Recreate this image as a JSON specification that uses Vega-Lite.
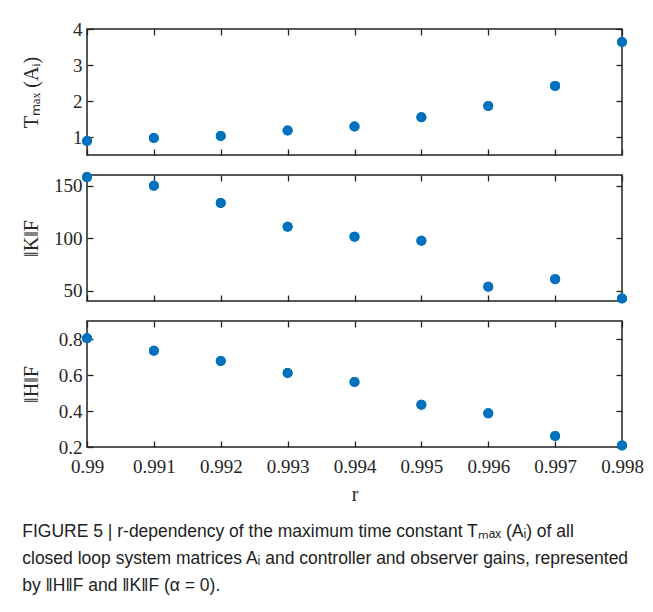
{
  "$schema": "https://vega.github.io/schema/vega-lite/v6.json",
  "background": "white",
  "padding": {"left": 20, "top": 19, "right": 10, "bottom": 5},
  "datasets": {
    "d": [
      {"r": 0.990, "T": 0.89, "K": 158.0, "H": 0.804},
      {"r": 0.991, "T": 0.97, "K": 149.7, "H": 0.735},
      {"r": 0.992, "T": 1.03, "K": 133.4, "H": 0.678},
      {"r": 0.993, "T": 1.18, "K": 110.7, "H": 0.611},
      {"r": 0.994, "T": 1.29, "K": 101.3, "H": 0.561},
      {"r": 0.995, "T": 1.55, "K": 97.3, "H": 0.435},
      {"r": 0.996, "T": 1.86, "K": 53.5, "H": 0.387},
      {"r": 0.997, "T": 2.42, "K": 60.8, "H": 0.261},
      {"r": 0.998, "T": 3.64, "K": 42.3, "H": 0.209}
    ]
  },
  "spacing": 14,
  "vconcat": [
    {
      "width": 535, "height": 126,
      "data": {"name": "d"},
      "resolve": {"axis": {"x": "independent", "y": "independent"}},
      "layer": [
        {
          "mark": {"type": "point", "filled": true, "opacity": 1, "clip": false},
          "encoding": {
            "x": {"field": "r", "type": "quantitative", "scale": {"domain": [0.99, 0.998], "nice": false, "zero": false},
                  "axis": {"orient": "bottom", "labels": false, "title": null, "values": [0.99,0.991,0.992,0.993,0.994,0.995,0.996,0.997,0.998]}},
            "y": {"field": "T", "type": "quantitative", "scale": {"domain": [0.5, 4], "nice": false, "zero": false},
                  "axis": {"orient": "left", "values": [1,2,3,4], "title": "Tₘₐₓ (Aᵢ)", "titleX": -46}}
          }
        },
        {
          "mark": {"type": "point", "filled": true, "opacity": 1, "clip": false},
          "encoding": {
            "x": {"field": "r", "type": "quantitative",
                  "axis": {"orient": "top", "labels": false, "title": null, "values": [0.99,0.991,0.992,0.993,0.994,0.995,0.996,0.997,0.998]}},
            "y": {"field": "T", "type": "quantitative",
                  "axis": {"orient": "right", "labels": false, "title": null, "values": [1,2,3,4]}}
          }
        }
      ]
    },
    {
      "width": 535, "height": 126,
      "data": {"name": "d"},
      "resolve": {"axis": {"x": "independent", "y": "independent"}},
      "layer": [
        {
          "mark": {"type": "point", "filled": true, "opacity": 1, "clip": false},
          "encoding": {
            "x": {"field": "r", "type": "quantitative", "scale": {"domain": [0.99, 0.998], "nice": false, "zero": false},
                  "axis": {"orient": "bottom", "labels": false, "title": null, "values": [0.99,0.991,0.992,0.993,0.994,0.995,0.996,0.997,0.998]}},
            "y": {"field": "K", "type": "quantitative", "scale": {"domain": [40, 160], "nice": false, "zero": false},
                  "axis": {"orient": "left", "values": [50,100,150], "title": "‖K‖F", "titleX": -46}}
          }
        },
        {
          "mark": {"type": "point", "filled": true, "opacity": 1, "clip": false},
          "encoding": {
            "x": {"field": "r", "type": "quantitative",
                  "axis": {"orient": "top", "labels": false, "title": null, "values": [0.99,0.991,0.992,0.993,0.994,0.995,0.996,0.997,0.998]}},
            "y": {"field": "K", "type": "quantitative",
                  "axis": {"orient": "right", "labels": false, "title": null, "values": [50,100,150]}}
          }
        }
      ]
    },
    {
      "width": 535, "height": 126,
      "data": {"name": "d"},
      "resolve": {"axis": {"x": "independent", "y": "independent"}},
      "layer": [
        {
          "mark": {"type": "point", "filled": true, "opacity": 1, "clip": false},
          "encoding": {
            "x": {"field": "r", "type": "quantitative", "scale": {"domain": [0.99, 0.998], "nice": false, "zero": false},
                  "axis": {"orient": "bottom", "title": "r", "format": ".3~f", "values": [0.99,0.991,0.992,0.993,0.994,0.995,0.996,0.997,0.998]}},
            "y": {"field": "H", "type": "quantitative", "scale": {"domain": [0.2, 0.9], "nice": false, "zero": false},
                  "axis": {"orient": "left", "values": [0.2,0.4,0.6,0.8], "format": ".1f", "title": "‖H‖F", "titleX": -46}}
          }
        },
        {
          "mark": {"type": "point", "filled": true, "opacity": 1, "clip": false},
          "encoding": {
            "x": {"field": "r", "type": "quantitative",
                  "axis": {"orient": "top", "labels": false, "title": null, "values": [0.99,0.991,0.992,0.993,0.994,0.995,0.996,0.997,0.998]}},
            "y": {"field": "H", "type": "quantitative",
                  "axis": {"orient": "right", "labels": false, "title": null, "values": [0.2,0.4,0.6,0.8]}}
          }
        }
      ]
    }
  ],
  "title": {
    "text": [
      "FIGURE 5 | r-dependency of the maximum time constant Tₘₐₓ (Aᵢ) of all",
      "closed loop system matrices Aᵢ and controller and observer gains, represented",
      "by ‖H‖F and ‖K‖F (α = 0)."
    ],
    "orient": "bottom",
    "anchor": "start",
    "frame": "bounds",
    "offset": 18,
    "dx": 2,
    "font": "Liberation Sans",
    "fontSize": 17.5,
    "fontWeight": "normal",
    "color": "#222222",
    "lineHeight": 27
  },
  "config": {
    "view": {"stroke": "#222222", "strokeWidth": 1.5},
    "point": {"color": "#0072BD", "size": 100},
    "axis": {
      "domain": false,
      "grid": false,
      "ticks": true,
      "tickSize": -6,
      "tickColor": "#222222",
      "tickWidth": 1.3,
      "labelFlush": false,
      "labelOverlap": false,
      "labelFont": "Liberation Serif",
      "labelFontSize": 19,
      "labelColor": "#262626",
      "labelPadding": 11,
      "titleFont": "Liberation Serif",
      "titleFontSize": 20,
      "titleFontWeight": "normal",
      "titleColor": "#262626"
    },
    "axisX": {"labelPadding": 16, "titlePadding": 8}
  }
}
